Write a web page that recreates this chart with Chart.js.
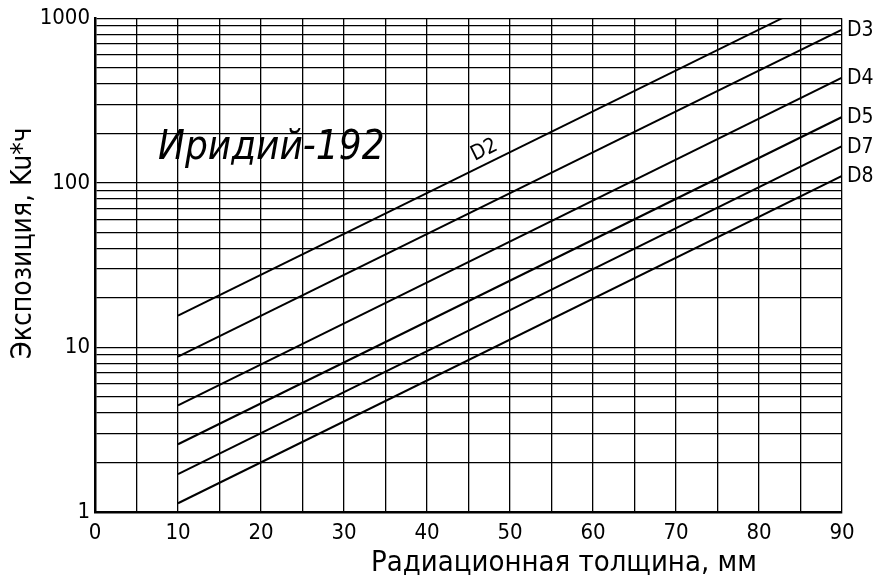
<!DOCTYPE html>
<html>
<head>
<meta charset="utf-8">
<script src="https://cdn.jsdelivr.net/npm/chart.js@4/dist/chart.umd.min.js"></script>
<style>
  html, body { margin: 0; padding: 0; background: #fff; }
  #wrap { width: 875px; height: 581px; }
</style>
</head>
<body>
<div id="wrap"><canvas id="chart"></canvas></div>
<script>
// Exposure nomogram for Ir-192: straight lines on a log scale, one per film type.
const FONT = "'Liberation Sans Narrow', 'DejaVu Sans Condensed', sans-serif";

const curveNames     = ['D2', 'D3', 'D4', 'D5', 'D7', 'D8'];
const thicknessStart = [10, 10, 10, 10, 10, 10];            // mm
const exposureStart  = [15.6, 8.8, 4.45, 2.58, 1.70, 1.13]; // Ku*h
const thicknessEnd   = [82.8, 90, 90, 90, 90, 90];          // mm
const exposureEnd    = [1000, 853, 436, 251, 167, 110];     // Ku*h

const xLabelTicks = [0, 10, 20, 30, 40, 50, 60, 70, 80, 90];
const yDecades    = [1, 10, 100, 1000];

// Grid: every 5 mm horizontally, 1..9 per decade vertically
const xGridValues = [];
for (let v = 0; v <= 90; v += 5) xGridValues.push(v);
const yGridValues = [];
for (let d = 1; d < 1000; d *= 10) for (let m = 1; m <= 9; m++) yGridValues.push(m * d);
yGridValues.push(1000);

const datasets = curveNames.map((name, i) => ({
  label: name,
  data: [
    { x: thicknessStart[i], y: exposureStart[i] },
    { x: thicknessEnd[i],   y: exposureEnd[i] }
  ],
  borderColor: '#000',
  borderWidth: 2,
  pointRadius: 0,
  fill: false,
  tension: 0
}));

// Curve names: at the right end of each line, D2 written along its line
const curveLabels = {
  id: 'curveLabels',
  afterDatasetsDraw(chart, args, opts) {
    const { ctx, chartArea, scales } = chart;
    ctx.fillStyle = '#000';
    ctx.font = '21px ' + FONT;
    chart.data.datasets.forEach((ds, i) => {
      const meta = chart.getDatasetMeta(i);
      const p0 = meta.data[0], p1 = meta.data[meta.data.length - 1];
      ctx.save();
      if (ds.label === opts.inlineName) {
        const ang = Math.atan2(p1.y - p0.y, p1.x - p0.x);
        const xv = opts.inlineAt;
        const t = (xv - ds.data[0].x) / (ds.data[1].x - ds.data[0].x);
        const lv = Math.log10(ds.data[0].y) + t * (Math.log10(ds.data[1].y) - Math.log10(ds.data[0].y));
        const px = scales.x.getPixelForValue(xv);
        const py = scales.y.getPixelForValue(Math.pow(10, lv));
        ctx.translate(px + Math.sin(ang) * opts.inlineOffset, py - Math.cos(ang) * opts.inlineOffset);
        ctx.rotate(ang);
        ctx.textAlign = 'center';
        ctx.textBaseline = 'middle';
        ctx.fillText(ds.label, 0, 0);
      } else {
        ctx.textAlign = 'left';
        ctx.textBaseline = 'middle';
        ctx.fillText(ds.label, chartArea.right + 5, p1.y + 1);
      }
      ctx.restore();
    });
  }
};

// Isotope caption inside the plot and both axis titles
const captions = {
  id: 'captions',
  afterDatasetsDraw(chart, args, opts) {
    const { ctx, scales } = chart;
    ctx.save();
    ctx.fillStyle = '#000';
    ctx.font = 'italic 40px ' + FONT;
    ctx.textAlign = 'left';
    ctx.textBaseline = 'alphabetic';
    ctx.fillText(opts.isotope, scales.x.getPixelForValue(opts.isotopeX), scales.y.getPixelForValue(opts.isotopeY));
    ctx.restore();

    ctx.save();
    ctx.fillStyle = '#000';
    ctx.font = '28px ' + FONT;
    ctx.textAlign = 'center';
    ctx.textBaseline = 'middle';
    ctx.translate(opts.yTitleX, scales.y.getPixelForValue(opts.yTitleAt));
    ctx.rotate(-Math.PI / 2);
    ctx.fillText(opts.yTitle, 0, 0);
    ctx.restore();

    ctx.save();
    ctx.fillStyle = '#000';
    ctx.font = '29px ' + FONT;
    ctx.textAlign = 'center';
    ctx.textBaseline = 'middle';
    ctx.fillText(opts.xTitle, scales.x.getPixelForValue(opts.xTitleAt), opts.xTitleY);
    ctx.restore();
  }
};

new Chart(document.getElementById('chart'), {
  type: 'line',
  data: { datasets },
  plugins: [curveLabels, captions],
  options: {
    responsive: true,
    maintainAspectRatio: false,
    animation: false,
    layout: { padding: { top: 18, right: 33, bottom: 0, left: 0 } },
    plugins: {
      legend: { display: false },
      tooltip: { enabled: false },
      curveLabels: { inlineName: 'D2', inlineAt: 47.6, inlineOffset: 13 },
      captions: {
        isotope: 'Иридий-192', isotopeX: 7.6, isotopeY: 140,
        yTitle: 'Экспозиция, Ku*ч', yTitleX: 24, yTitleAt: 43,
        xTitle: 'Радиационная толщина, мм', xTitleAt: 56.5, xTitleY: 563
      }
    },
    scales: {
      x: {
        type: 'linear',
        min: 0,
        max: 90,
        afterFit(scale) { scale.height = 69; },
        afterBuildTicks(scale) { scale.ticks = xGridValues.map(v => ({ value: v })); },
        ticks: {
          autoSkip: false,
          maxRotation: 0,
          padding: 8,
          color: '#000',
          font: { family: FONT, size: 22 },
          callback: v => xLabelTicks.includes(v) ? String(v) : ''
        },
        grid: { color: '#000', lineWidth: 1.3, drawTicks: false },
        border: { color: '#000', width: 2.5 }
      },
      y: {
        type: 'logarithmic',
        min: 1,
        max: 1000,
        afterFit(scale) { scale.width = 95; },
        afterBuildTicks(scale) { scale.ticks = yGridValues.map(v => ({ value: v })); },
        ticks: {
          autoSkip: false,
          padding: 5,
          color: '#000',
          font: { family: FONT, size: 22 },
          callback: v => yDecades.includes(v) ? String(v) : ''
        },
        grid: { color: '#000', lineWidth: 1.3, drawTicks: false },
        border: { color: '#000', width: 2.5 }
      }
    }
  }
});
</script>
</body>
</html>
